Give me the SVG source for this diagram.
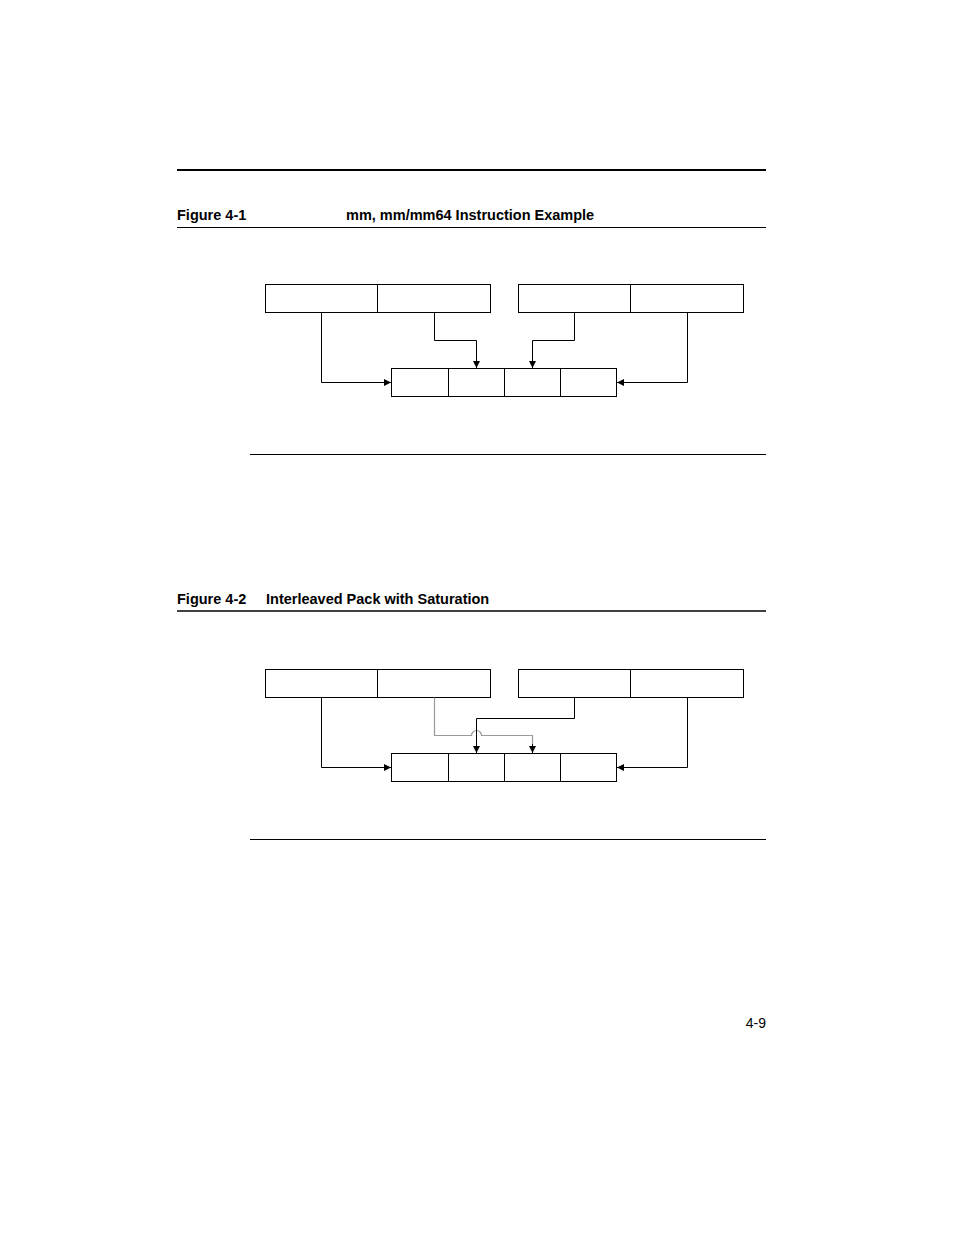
<svg xmlns="http://www.w3.org/2000/svg" width="954" height="1235" viewBox="0 0 954 1235">
<style>
.b{fill:#fff;stroke:#000;stroke-width:1}
.c{fill:none;stroke:#000;stroke-width:1}
.g{fill:none;stroke:#999;stroke-width:1.2}
.t{font-family:"Liberation Sans",Arial,sans-serif;font-size:14.5px;font-weight:bold}
.r{stroke:#000;fill:none}
</style>
<defs>
<marker id="a" viewBox="0 0 8 8" refX="8" refY="4" markerWidth="7" markerHeight="7" orient="auto" markerUnits="userSpaceOnUse"><path d="M0,0L8,4L0,8z" fill="#000"/></marker>
</defs>
<line class="r" x1="177" y1="170" x2="766" y2="170" stroke-width="2"/>
<text class="t" x="177" y="220">Figure 4-1</text>
<text class="t" x="346" y="220">mm, mm/mm64 Instruction Example</text>
<line class="r" x1="177" y1="227.5" x2="766" y2="227.5"/>
<line class="r" x1="250" y1="454.5" x2="766" y2="454.5"/>
<text class="t" x="177" y="604">Figure 4-2</text>
<text class="t" x="266" y="604">Interleaved Pack with Saturation</text>
<line class="r" x1="177" y1="611" x2="766" y2="611" stroke-width="1.5"/>
<line class="r" x1="250" y1="839.5" x2="766" y2="839.5"/>
<text x="766" y="1028" text-anchor="end" font-family="Liberation Sans,Arial,sans-serif" font-size="14">4-9</text>

<g id="f1-src1"><rect class="b" x="265.5" y="284.5" width="225" height="28"/><line class="c" x1="377.5" y1="284.5" x2="377.5" y2="312.5"/></g>
<g id="f1-src2"><rect class="b" x="518.5" y="284.5" width="225" height="28"/><line class="c" x1="630.5" y1="284.5" x2="630.5" y2="312.5"/></g>
<g id="f1-dst"><rect class="b" x="391.5" y="368.5" width="225" height="28"/><line class="c" x1="448.5" y1="368.5" x2="448.5" y2="396.5"/><line class="c" x1="504.5" y1="368.5" x2="504.5" y2="396.5"/><line class="c" x1="560.5" y1="368.5" x2="560.5" y2="396.5"/></g>
<g id="f1-connectors">
<path class="c" d="M321.5,312.5V382.5H391" marker-end="url(#a)"/>
<path class="c" d="M434.5,312.5V340.5H476.5V368" marker-end="url(#a)"/>
<path class="c" d="M574.5,312.5V340.5H532.5V368" marker-end="url(#a)"/>
<path class="c" d="M687.5,312.5V382.5H617" marker-end="url(#a)"/>
</g>

<g id="f2-src1"><rect class="b" x="265.5" y="669.5" width="225" height="28"/><line class="c" x1="377.5" y1="669.5" x2="377.5" y2="697.5"/></g>
<g id="f2-src2"><rect class="b" x="518.5" y="669.5" width="225" height="28"/><line class="c" x1="630.5" y1="669.5" x2="630.5" y2="697.5"/></g>
<g id="f2-dst"><rect class="b" x="391.5" y="753.5" width="225" height="28"/><line class="c" x1="448.5" y1="753.5" x2="448.5" y2="781.5"/><line class="c" x1="504.5" y1="753.5" x2="504.5" y2="781.5"/><line class="c" x1="560.5" y1="753.5" x2="560.5" y2="781.5"/></g>
<g id="f2-connectors">
<path class="g" d="M434.5,697.5V735.5H471.5A5,5 0 0 1 481.5,735.5H532.5V744"/>
<path class="c" d="M532.5,744V753" marker-end="url(#a)"/>
<path class="c" d="M321.5,697.5V767.5H391" marker-end="url(#a)"/>
<path class="c" d="M574.5,697.5V718.5H476.5V753" marker-end="url(#a)"/>
<path class="c" d="M687.5,697.5V767.5H617" marker-end="url(#a)"/>
</g>
</svg>
